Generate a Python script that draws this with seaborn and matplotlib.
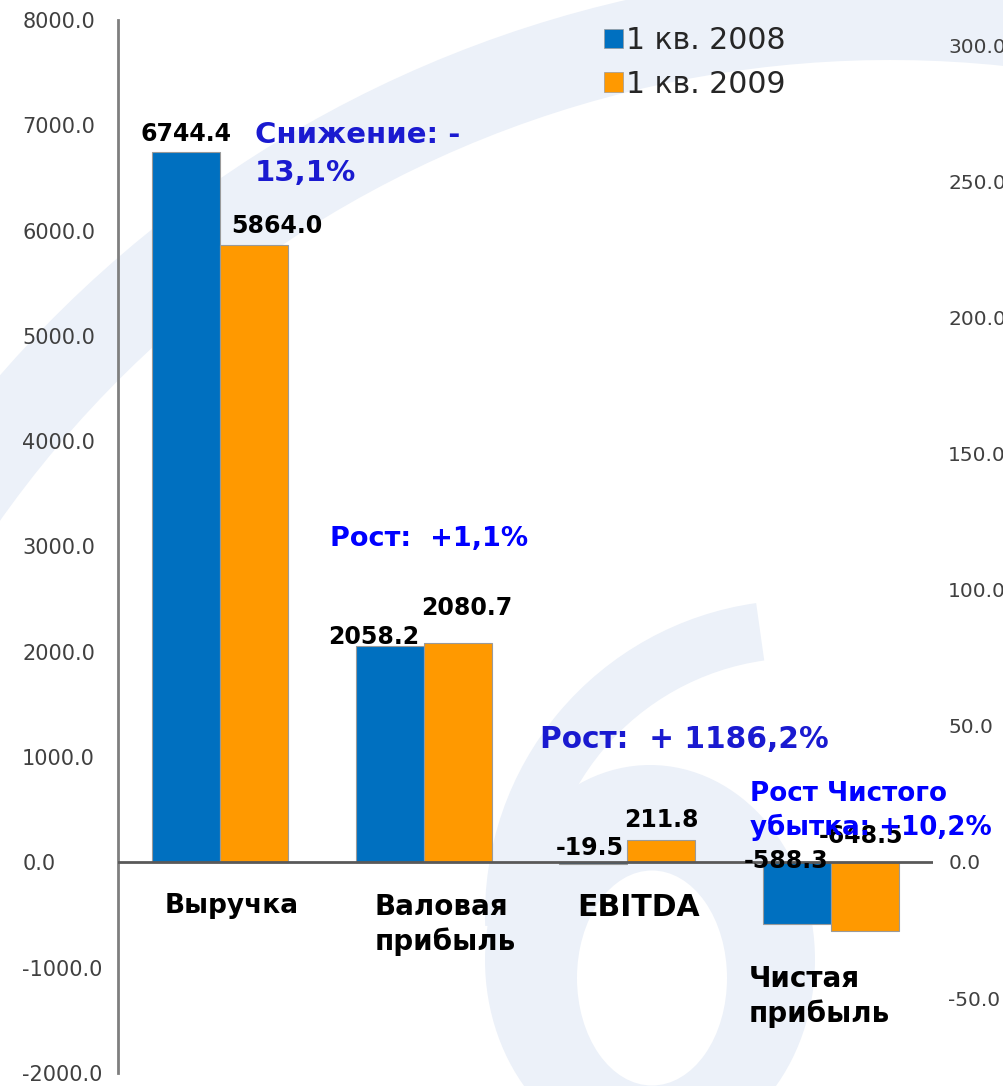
import matplotlib
matplotlib.use("Agg")
import matplotlib.pyplot as plt
import seaborn as sns
import pandas as pd
from matplotlib.patches import Wedge, Ellipse, Patch

# ---------------- data ----------------
categories = ["Выручка", "Валовая\nприбыль", "EBITDA", "Чистая\nприбыль"]
periods = ["1 кв. 2008", "1 кв. 2009"]
values_2008 = [6744.4, 2058.2, -19.5, -588.3]
values_2009 = [5864.0, 2080.7, 211.8, -648.5]
left_ticks = [-2000, -1000, 0, 1000, 2000, 3000, 4000, 5000, 6000, 7000, 8000]
right_ticks = [-50, 0, 50, 100, 150, 200, 250, 300]
notes = ["Снижение: -\n13,1%", "Рост:  +1,1%", "Рост:  + 1186,2%", "Рост Чистого\nубытка: +10,2%"]

df = pd.DataFrame({
    "cat": categories * 2,
    "period": [periods[0]] * 4 + [periods[1]] * 4,
    "value": values_2008 + values_2009,
})

sns.set_theme(style="white")
plt.rcParams["font.family"] = ["DejaVu Sans"]
plt.rcParams["axes.unicode_minus"] = False

W, H = 1004, 1086
fig = plt.figure(figsize=(W / 100, H / 100), dpi=100)
fig.patch.set_facecolor("white")

# ---- faint background watermark ----
bg = fig.add_axes([0, 0, 1, 1], zorder=-5)
bg.set_xlim(0, W)
bg.set_ylim(H, 0)
bg.axis("off")
wm = "#ecf1f9"
bg.add_patch(Wedge((890, 1150), 1180, 195, 280, width=90, color=wm, lw=0))
bg.add_patch(Wedge((800, 915), 315, 178, 262, width=58, color=wm, lw=0))
bg.add_patch(Ellipse((650, 960), 330, 390, color=wm, lw=0))
bg.add_patch(Ellipse((652, 978), 150, 215, color="white", lw=0))

# ---- main axes ----
ax = fig.add_axes([118 / W, 1 - 1073 / H, (933 - 118) / W, (1073 - 20) / H], zorder=1)
ax.patch.set_alpha(0)

palette = {periods[0]: "#0070C0", periods[1]: "#FF9900"}
sns.barplot(data=df, x="cat", y="value", hue="period", order=categories,
            hue_order=periods, palette=palette, saturation=1, width=0.667,
            edgecolor="#9a9a9a", linewidth=0.8, ax=ax, legend=False, errorbar=None)

ax.set_xlim(-0.5, 3.5)
ax.set_ylim(-2000, 8000)
ax.set_xlabel("")
ax.set_ylabel("")
ax.set_xticks([])
ax.set_yticks(left_ticks)
ax.set_yticklabels([f"{t:.1f}" for t in left_ticks], ha="left", color="#404040", fontsize=15)
ax.tick_params(axis="y", length=0, pad=69)
for s in ["top", "right", "bottom"]:
    ax.spines[s].set_visible(False)
ax.spines["left"].set_color("#7f7f7f")
ax.spines["left"].set_linewidth(2)
ax.axhline(0, color="#595959", lw=2, zorder=3)

# value labels
offsets = [
    [(0, 6), (-16, -3), (-4, 2), (-11, -11)],
    [(23, 7), (9, 23), (0, 8), (-4, 14)],
]
for h, cont in enumerate(ax.containers):
    vals = [values_2008, values_2009][h]
    for i, bar in enumerate(cont):
        val = vals[i]
        xc = bar.get_x() + bar.get_width() / 2
        dx, dy = offsets[h][i]
        ax.annotate(f"{val:.1f}", xy=(xc, max(val, 0)), xytext=(dx, dy),
                    textcoords="offset pixels", ha="center", va="bottom",
                    fontsize=17, fontweight="bold",
                    color="black", zorder=5)

# category labels
cat_off = [(-55, -31), (-49, -31), (-50, -31), (-82, -103)]
cat_size = [19, 20, 21.5, 20]
for i, c in enumerate(categories):
    ax.annotate(c, xy=(i, 0), xytext=cat_off[i], textcoords="offset pixels",
                ha="left", va="top", fontsize=cat_size[i], fontweight="bold",
                color="black", linespacing=1.25)

# blue notes (figure pixel positions)
def px(x, y):
    return x / W, 1 - y / H

note_pos = [(255, 121), (330, 526), (540, 725), (750, 781)]
note_col = ["#1a1ad0", "#0000ff", "#1a1ad0", "#0000ff"]
note_size = [21, 19.5, 21.3, 18.8]
note_ls = [1.45, 1.2, 1.2, 1.3]
for t, p, c, s, ls in zip(notes, note_pos, note_col, note_size, note_ls):
    fig.text(*px(*p), t, ha="left", va="top", fontsize=s, fontweight="bold",
             color=c, linespacing=ls, zorder=10)

# right axis
ax2 = ax.twinx()
ax2.set_ylim(-77.5, 309.2)
ax2.set_yticks(right_ticks)
ax2.set_yticklabels([f"{t:.1f}" for t in right_ticks], color="#404040", fontsize=14.5)
ax2.tick_params(axis="y", length=0, pad=11)
for s in ax2.spines.values():
    s.set_visible(False)
ax2.grid(False)
ax.grid(False)

# legend
handles = [Patch(facecolor=palette[p], edgecolor="#9a9a9a", linewidth=0.5, label=p) for p in periods]
fig.legend(handles=handles, loc="upper left", bbox_to_anchor=px(604, 26),
           frameon=False, fontsize=21.5, handlelength=0.65, handleheight=0.65,
           handletextpad=0.1, labelspacing=0.5, borderaxespad=0, borderpad=0)

fig.savefig("out.png", dpi=100, facecolor="white")
